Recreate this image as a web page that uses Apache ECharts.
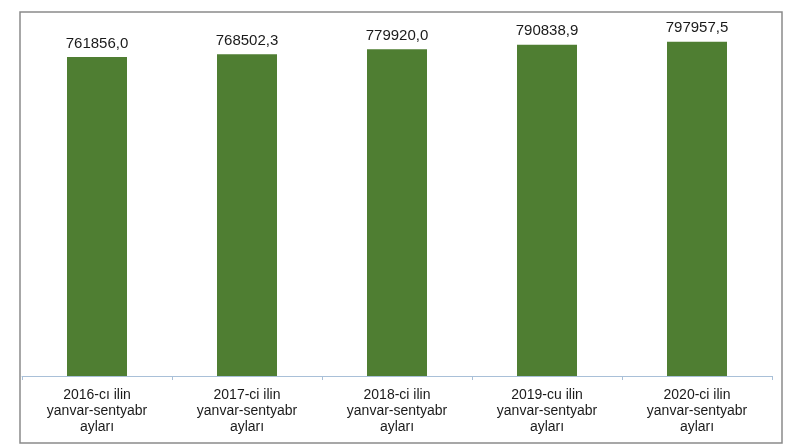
<!DOCTYPE html>
<html>
<head>
<meta charset="utf-8">
<script src="https://cdn.jsdelivr.net/npm/echarts@6/dist/echarts.min.js"></script>
<style>
html,body{margin:0;padding:0;background:#fff;}
#chart{width:792px;height:444px;}
</style>
</head>
<body>
<div id="chart"></div>
<script>
const categories = [
  "2016-cı ilin\nyanvar-sentyabr\nayları",
  "2017-ci ilin\nyanvar-sentyabr\nayları",
  "2018-ci ilin\nyanvar-sentyabr\nayları",
  "2019-cu ilin\nyanvar-sentyabr\nayları",
  "2020-ci ilin\nyanvar-sentyabr\nayları"
];
const values = [761856.0, 768502.3, 779920.0, 790838.9, 797957.5];

const chart = echarts.init(document.getElementById('chart'));
chart.setOption({
  animation: false,
  backgroundColor: '#ffffff',
  textStyle: { fontFamily: 'Liberation Sans, Arial, sans-serif' },
  graphic: [{
    type: 'rect',
    shape: { x: 20, y: 12, width: 762, height: 431 },
    style: { fill: 'none', stroke: '#8a8a8a', lineWidth: 1.5 },
    silent: true
  }],
  grid: { left: 22, right: 20, top: 20, bottom: 68, containLabel: false },
  xAxis: {
    type: 'category',
    data: categories,
    axisLine: { show: true, lineStyle: { color: '#a9c0d8', width: 1 } },
    axisTick: { show: true, length: 4, lineStyle: { color: '#a9c0d8' } },
    axisLabel: {
      color: '#1a1a1a',
      fontSize: 14,
      lineHeight: 16,
      margin: 11,
      fontFamily: 'Liberation Sans, Arial, sans-serif',
      interval: 0
    }
  },
  yAxis: {
    type: 'value',
    min: 0,
    max: 850000,
    show: false,
    splitLine: { show: false }
  },
  series: [{
    type: 'bar',
    data: values,
    barWidth: 60,
    itemStyle: { color: '#4f7e32' },
    label: {
      show: true,
      position: 'top',
      distance: 6,
      color: '#1a1a1a',
      fontSize: 15,
      fontFamily: 'Liberation Sans, Arial, sans-serif',
      formatter: function (p) { return p.value.toFixed(1).replace('.', ','); }
    }
  }]
});
</script>
</body>
</html>
